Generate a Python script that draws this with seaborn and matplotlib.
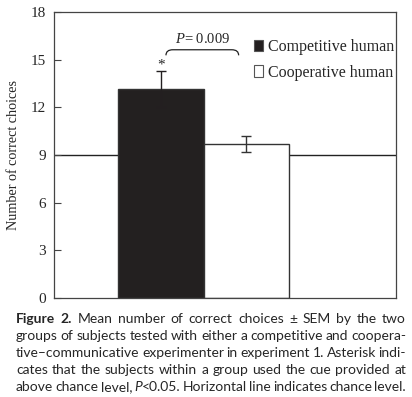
import matplotlib
matplotlib.use('Agg')
import pandas as pd
import matplotlib.pyplot as plt
import seaborn as sns
from matplotlib.patches import Patch, PathPatch
from matplotlib.path import Path

# Data
groups = ['Competitive human', 'Cooperative human']
means = [13.15, 9.7]
sems = [1.15, 0.5]
bar_colors = ['#231f20', '#ffffff']
err_colors = ['#231f20', '#333333']
chance_level = 9
yticks = [0, 3, 6, 9, 12, 15, 18]

caption_lines = [
    'Figure 2. Mean number of correct choices \u00b1 SEM by the two',
    'groups of subjects tested with either a competitive and coopera-',
    'tive\u2013communicative experimenter in experiment 1. Asterisk indi-',
    'cates that the subjects within a group used the cue provided at',
    'above chance level, P<0.05. Horizontal line indicates chance level.',
]

df = pd.DataFrame({'group': groups, 'mean': means, 'sem': sems})

sns.set_style('ticks')
plt.rcParams['font.family'] = ['Liberation Serif', 'DejaVu Serif']
plt.rcParams['mathtext.fontset'] = 'custom'
plt.rcParams['mathtext.it'] = 'Liberation Serif:italic'
plt.rcParams['mathtext.rm'] = 'Liberation Serif'

fig = plt.figure(figsize=(4.12, 3.97), dpi=100)
ax = fig.add_axes([0.131, 0.249, 0.83, 0.721])

sns.barplot(data=df, x='group', y='mean', hue='group', palette=bar_colors,
            width=1.0, edgecolor='#333333', linewidth=1.0, legend=False, ax=ax)
for i in range(len(groups)):
    ax.errorbar(x=i, y=means[i], yerr=sems[i], fmt='none',
                ecolor=err_colors[i], elinewidth=1.0, capsize=3.5, capthick=1.0)

# chance level
ax.axhline(chance_level, color='#222222', lw=1.0, zorder=0.5)

# asterisk above competitive bar
ax.text(0, means[0] + sems[0] - 0.05, '*', ha='center', va='bottom', fontsize=11)

# brace + p value
bx0, bx1, btop, bdrop = 0.06, 0.91, 15.62, 0.35
verts = [(bx0, btop - bdrop), (bx0, btop), (bx0 + 0.08, btop),
         (bx1 - 0.08, btop),
         (bx1, btop), (bx1, btop - bdrop)]
codes = [Path.MOVETO, Path.CURVE3, Path.CURVE3, Path.LINETO, Path.CURVE3, Path.CURVE3]
ax.add_patch(PathPatch(Path(verts, codes), fill=False, lw=0.9, ec='#222222'))
ax.text(0.49, 16.05, r'$\it{P}$= 0.009', ha='center', va='baseline', fontsize=10.5)

ax.set_xlim(-1.25, 2.75)
ax.set_ylim(0, 18)
ax.set_yticks(yticks)
ax.set_xticks([])
ax.set_xlabel('')
ax.set_ylabel('Number of correct choices', fontsize=10.2, labelpad=11)
ax.tick_params(axis='y', direction='in', length=5, width=0.8, labelsize=11, pad=6,
               color='#444444')
for s in ax.spines.values():
    s.set_visible(True)
    s.set_color('#444444')
    s.set_linewidth(0.9)
ax.yaxis.set_label_coords(-0.1, 0.5)

handles = [Patch(facecolor=c, edgecolor='#555555', lw=0.8) for c in bar_colors]
ax.legend(handles, groups, loc='upper left', bbox_to_anchor=(0.585, 0.905),
          frameon=False, fontsize=11.5, handlelength=0.55, handleheight=0.75,
          handletextpad=0.35, labelspacing=0.6, borderaxespad=0, borderpad=0)

# justified caption
cap_font = ['Lato', 'DejaVu Sans']
cap_size = 10.0
x_left, x_right = 16, 406
renderer = fig.canvas.get_renderer()
for i, line in enumerate(caption_lines):
    words = line.split(' ')
    pieces = []
    for j, w in enumerate(words):
        if i == 0 and j < 2:
            segs = [(w, 'bold', 'normal')]
        elif w.startswith('P<'):
            segs = [('P', 'normal', 'italic'), (w[1:], 'normal', 'normal')]
        else:
            segs = [(w, 'normal', 'normal')]
        arts = []
        for txt, wt, st in segs:
            t = fig.text(0, 0, txt, family=cap_font, fontsize=cap_size,
                         weight=wt, style=st, va='baseline', ha='left')
            arts.append(t)
        pieces.append(arts)
    widths = [[a.get_window_extent(renderer).width for a in arts] for arts in pieces]
    total = sum(sum(w) for w in widths)
    gap = (x_right - x_left - total) / (len(pieces) - 1)
    x = x_left
    ybase = 397 - (323 + 17 * i)
    for arts, ws in zip(pieces, widths):
        for a, w in zip(arts, ws):
            a.set_position((x / 412, ybase / 397))
            x += w
        x += gap

fig.savefig('out.png', dpi=100)
